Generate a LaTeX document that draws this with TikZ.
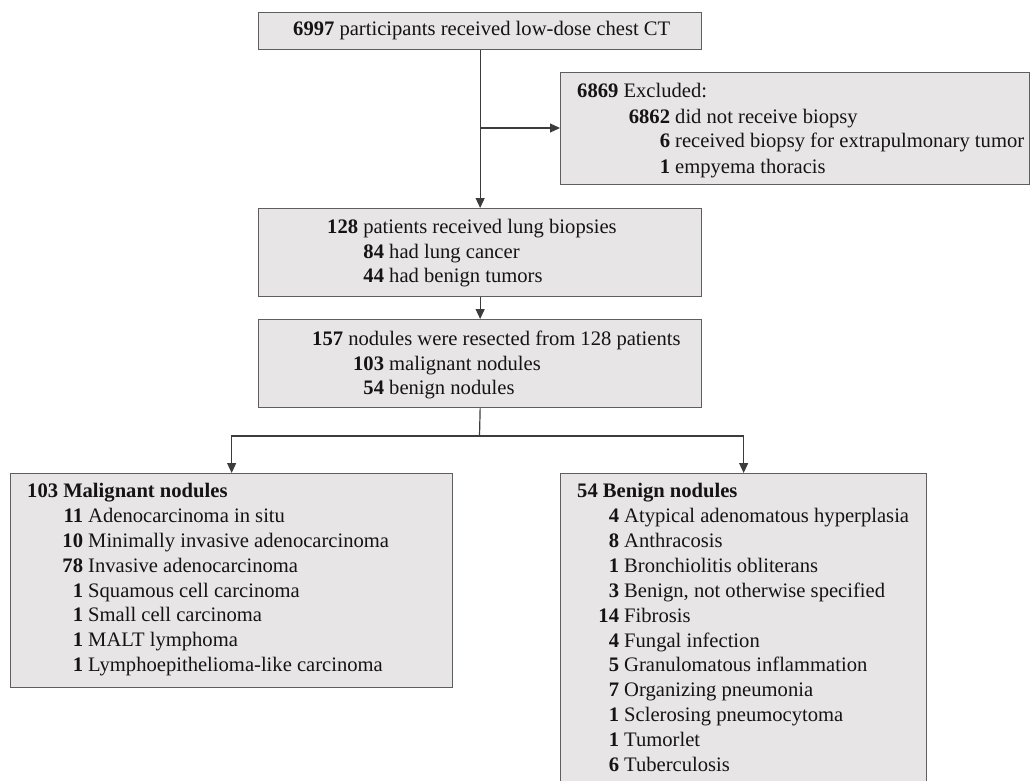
\documentclass[tikz,border=0pt]{standalone}
\usepackage{fontspec}
\setmainfont{Liberation Serif}
\usetikzlibrary{arrows.meta}
\definecolor{boxfill}{HTML}{E7E5E6}
\definecolor{boxline}{HTML}{5E5E5E}
\definecolor{conn}{HTML}{3C3C3C}
\definecolor{ink}{HTML}{141414}
\tikzset{
  box/.style={draw=boxline, fill=boxfill, line width=1.3pt, inner sep=0pt, anchor=north west},
  txt/.style={anchor=base west, inner sep=0pt, text=ink, font=\fontsize{20.6}{24.8}\selectfont},
  link/.style={draw=conn, line width=1.2pt},
  arr/.style={link, -{Triangle[length=10pt,width=9pt]}},
}
\begin{document}
\begin{tikzpicture}[x=1pt,y=-1pt]
\useasboundingbox (0,0) rectangle (1031,781);
% boxes
\node[box, minimum width=443pt, minimum height=37pt] (top) at (258,12) {};
\node[box, minimum width=469pt, minimum height=112pt] (excl) at (560,72) {};
\node[box, minimum width=443pt, minimum height=88pt] (b2) at (258,208) {};
\node[box, minimum width=443pt, minimum height=88pt] (b3) at (258,319) {};
\node[box, minimum width=442pt, minimum height=214pt] (lb) at (10,473) {};
\node[box, minimum width=366pt, minimum height=330pt] (rb) at (560,473) {};
% connectors
\coordinate (br) at (479.5,128);
\coordinate (split) at (479.5,436);
\draw[arr] (top.south) -- (b2.north);
\draw[arr] (br) -- (excl.west |- br);
\draw[arr] (b2.south) -- (b3.north);
\draw[link] (b3.south) -- (split);
\draw[arr] (split) -| (lb.north);
\draw[arr] (split) -| (rb.north);
% texts
\node[txt] (t0) at (293,36) {\textbf{6997} participants received low-dose chest CT};
\node[txt] (e0) at (577,98) {\textbf{6869} Excluded:};
\node[txt] (e1) at (675,124) {\llap{\textbf{6862}\ }did not receive biopsy};
\node[txt] (e2) at (675,148) {\llap{\textbf{6}\ }received biopsy for extrapulmonary tumor};
\node[txt] (e3) at (675,173) {\llap{\textbf{1}\ }empyema thoracis};
\node[txt] (p0) at (327,233) {\textbf{128} patients received lung biopsies};
\node[txt] (p1) at (389,258) {\llap{\textbf{84}\ }had lung cancer};
\node[txt] (p2) at (389,282) {\llap{\textbf{44}\ }had benign tumors};
\node[txt] (n0) at (312,345) {\textbf{157} nodules were resected from 128 patients};
\node[txt] (n1) at (389,370) {\llap{\textbf{103}\ }malignant nodules};
\node[txt] (n2) at (389,394) {\llap{\textbf{54}\ }benign nodules};
\node[txt] (mh) at (27,497) {\textbf{103 Malignant nodules}};
\foreach \n/\t [count=\i] in {11/{Adenocarcinoma in situ},10/{Minimally invasive adenocarcinoma},78/{Invasive adenocarcinoma},1/{Squamous cell carcinoma},1/{Small cell carcinoma},1/{MALT lymphoma},1/{Lymphoepithelioma-like carcinoma}}
  \node[txt] (m\i) at (88,{522.5+24.85*(\i-1)}) {\llap{\textbf{\n}\ }\t};
\node[txt] (bh) at (577,497) {\textbf{54 Benign nodules}};
\foreach \n/\t [count=\i] in {4/{Atypical adenomatous hyperplasia},8/{Anthracosis},1/{Bronchiolitis obliterans},3/{Benign, not otherwise specified},14/{Fibrosis},4/{Fungal infection},5/{Granulomatous inflammation},7/{Organizing pneumonia},1/{Sclerosing pneumocytoma},1/{Tumorlet},6/{Tuberculosis}}
  \node[txt] (g\i) at (624,{522.5+24.9*(\i-1)}) {\llap{\textbf{\n}\ }\t};
\end{tikzpicture}
\end{document}
